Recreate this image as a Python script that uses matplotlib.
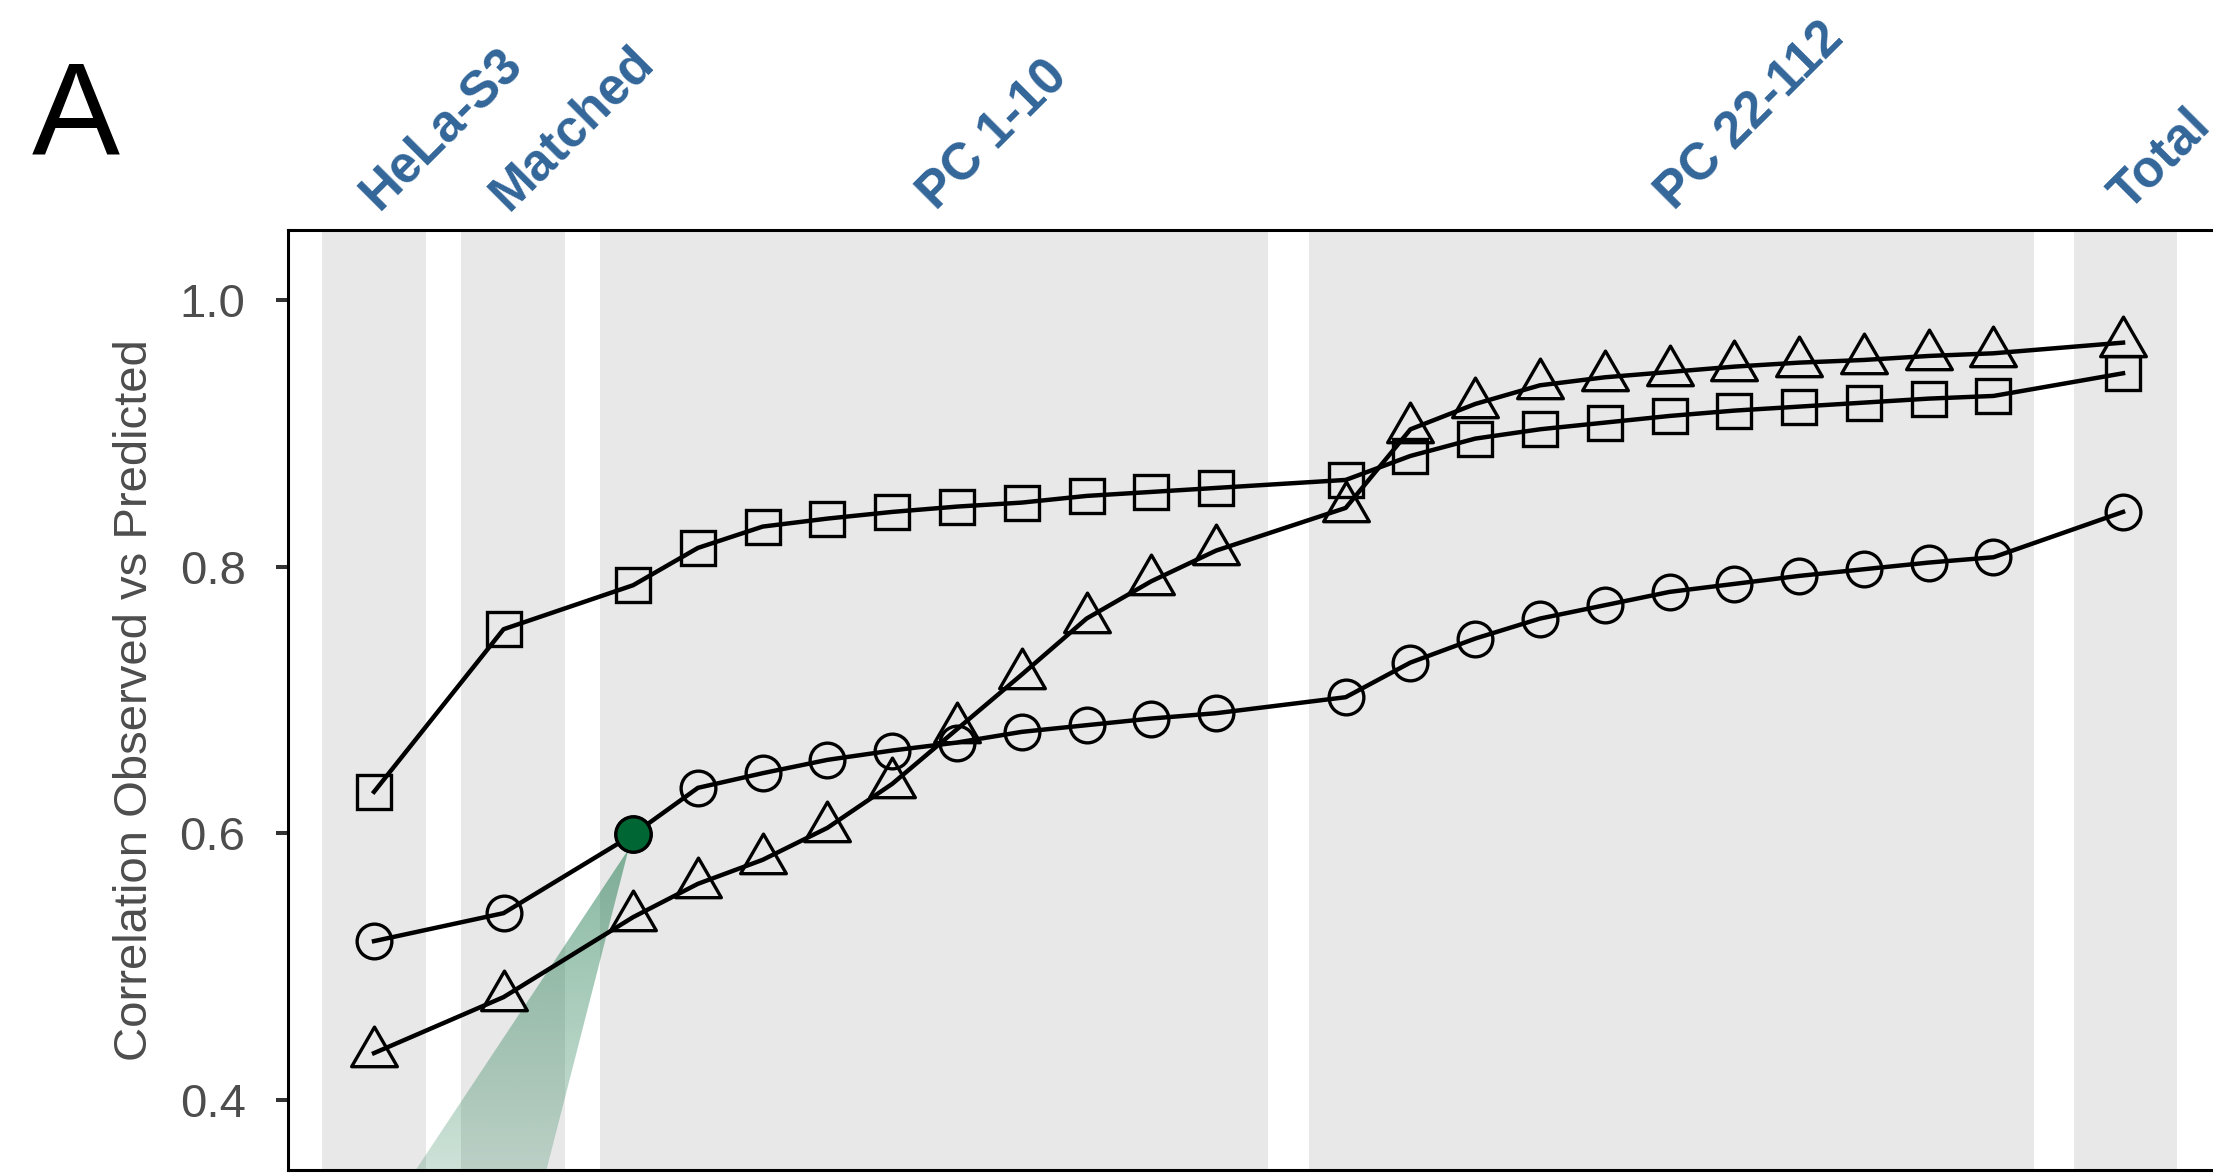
import numpy as np
import matplotlib
matplotlib.use('Agg')
import matplotlib.pyplot as plt
import matplotlib.transforms as mtransforms
from matplotlib.path import Path
from matplotlib.patches import Polygon
from matplotlib.colors import to_rgb

## 데이터 ##
categories = ['HeLa-S3', 'Matched',
              'PC1', 'PC2', 'PC3', 'PC4', 'PC5', 'PC6', 'PC7', 'PC8', 'PC9', 'PC10',
              'PC22', 'PC31', 'PC40', 'PC49', 'PC58', 'PC67', 'PC76', 'PC85', 'PC94', 'PC103', 'PC112',
              'Total']
group_labels = ['HeLa-S3', 'Matched', 'PC 1-10', 'PC 22-112', 'Total']
group_sizes = [1, 1, 10, 11, 1]

circle = [0.519, 0.540,
          0.599, 0.634, 0.645, 0.655, 0.662, 0.668, 0.676, 0.681, 0.686, 0.690,
          0.702, 0.728, 0.746, 0.761, 0.771, 0.781, 0.787, 0.793, 0.798, 0.803, 0.807,
          0.841]
square = [0.631, 0.753,
          0.786, 0.814, 0.830, 0.836, 0.841, 0.845, 0.848, 0.853, 0.856, 0.859,
          0.865, 0.883, 0.896, 0.903, 0.908, 0.913, 0.917, 0.920, 0.923, 0.926, 0.928,
          0.945]
triangle = [0.435, 0.477,
            0.537, 0.562, 0.580, 0.604, 0.637, 0.678, 0.719, 0.761, 0.789, 0.812,
            0.844, 0.903, 0.922, 0.936, 0.942, 0.946, 0.950, 0.953, 0.955, 0.958, 0.960,
            0.968]
highlight = 'PC1'   # 초록색으로 채운 점

# x 위치: 그룹 사이에 한 칸씩 띄움
pos = []
k = 0
for n in group_sizes:
    pos += list(range(k, k + n))
    k += n + 1
pos = np.array(pos, dtype=float)

# 배경 회색 띠 (그룹별)
band_lo = [-0.80, 1.34, 3.49, 14.43, 26.25]
band_hi = [0.80, 2.95, 13.80, 25.63, 27.83]
label_x = [0.08, 2.08, 8.69, 20.08, 27.07]

## 그림 ##
plt.rcParams['font.family'] = ['Liberation Sans', 'DejaVu Sans']
W, H = 2213, 1174
fig = plt.figure(figsize=(W / 100, H / 100), dpi=100)
ax = fig.add_axes([288 / W, 4 / H, (2227 - 288) / W, 940 / H])

for lo, hi in zip(band_lo, band_hi):
    ax.axvspan(lo, hi, color='#E8E8E8', lw=0, zorder=0)

# 초록 쐐기 (그라데이션)
hi_i = categories.index(highlight)
apex = (pos[hi_i] - 0.07, circle[hi_i] - 0.011)
ybot = 0.30
lb = (apex[0] - (apex[1] - ybot) * 13.65, ybot)
rb = (apex[0] - (apex[1] - ybot) * 5.27, ybot)
wedge = Polygon([apex, rb, lb], closed=True, facecolor='none', edgecolor='none')
ax.add_patch(wedge)
grad = np.zeros((256, 1, 4))
grad[..., :3] = to_rgb('#1B784B')
grad[:, 0, 3] = np.linspace(0.16, 0.52, 256)
im = ax.imshow(grad, extent=[lb[0] - 0.1, apex[0] + 0.1, ybot, apex[1]],
               origin='lower', aspect='auto', interpolation='bilinear', zorder=1)
im.set_clip_path(wedge)

tri = Path([(0, 1), (-0.866, -0.5), (0.866, -0.5), (0, 1)],
           [Path.MOVETO, Path.LINETO, Path.LINETO, Path.CLOSEPOLY])

for ys, mk, ms in [(circle, 'o', 25), (square, 's', 25), (triangle, tri, 38)]:
    ax.plot(pos, ys, color='black', lw=3.2, zorder=3)
    ax.plot(pos, ys, ls='none', marker=mk, ms=ms, mfc='none', mec='black', mew=2.4, zorder=4)

ax.plot(pos[hi_i], circle[hi_i], marker='o', ms=25.5, mfc='#006633', mec='black', mew=2.4, zorder=5)

ax.set_xlim(-1.328, 28.605)
ax.set_ylim(0.3473, 1.0525)

ax.set_yticks([0.4, 0.6, 0.8, 1.0])
ax.set_yticklabels(['0.4', '0.6', '0.8', '1.0'])
ax.tick_params(axis='y', length=8.6, width=2.9, color='#333333', pad=22,
               labelsize=34, labelcolor='#4D4D4D')
ax.tick_params(axis='x', bottom=False, labelbottom=False)
for s in ['left', 'top', 'bottom']:
    ax.spines[s].set_linewidth(2.2)
    ax.spines[s].set_color('black')
ax.spines['right'].set_visible(False)

ax.set_ylabel('Correlation Observed vs Predicted', fontsize=34, color='#4D4D4D')
ax.yaxis.set_label_coords((135 - 288) / 1939, 0.5)
ax.yaxis.label.set_va('center')

trans = mtransforms.blended_transform_factory(ax.transData, ax.transAxes)
for lx, lab in zip(label_x, group_labels):
    ax.text(lx, 1 + 18 / 940, lab, transform=trans, rotation=45, rotation_mode='anchor',
            ha='left', va='baseline', fontsize=37, fontweight='bold', color='#336699',
            clip_on=False)

fig.text(32 / W, 1 - 155 / H, 'A', fontsize=95, ha='left', va='baseline')

fig.savefig('out.png', dpi=100)
